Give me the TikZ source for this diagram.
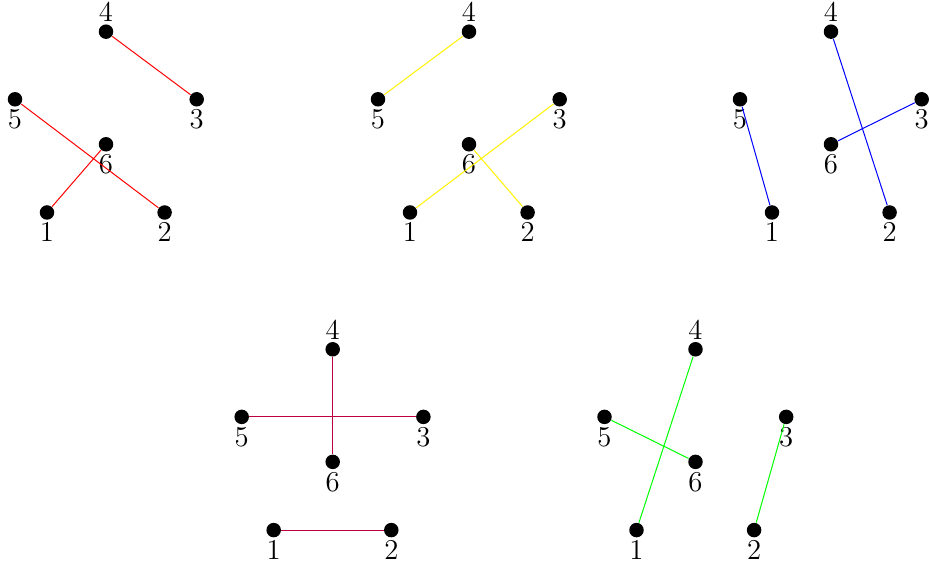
\documentclass[tikz,border=0pt]{standalone}
\newcommand\matchgraph[3]{%
  \begin{scope}[shift={(#2,#3)}]
    \node[vtx,label={[lab]above:4}] (#1-4) at (0,0) {};
    \node[vtx,label={[lab]below:5}] (#1-5) at (-91,67.6) {};
    \node[vtx,label={[lab]below:3}] (#1-3) at (90.7,67.6) {};
    \node[vtx,label={[lab]below:6}] (#1-6) at (0,112.6) {};
    \node[vtx,label={[lab]below:1}] (#1-1) at (-59,180.8) {};
    \node[vtx,label={[lab]below:2}] (#1-2) at (58.6,180.8) {};
  \end{scope}}
\begin{document}
\begin{tikzpicture}[x=0.4pt,y=-0.4pt,
  vtx/.style={circle,fill=black,inner sep=0pt,minimum size=5.8pt},
  lab/.style={inner sep=0pt,label distance=0.8pt,font=\fontsize{11.5}{13}\selectfont},
  edge/.style={line width=0.4pt}]
\useasboundingbox (0,0) rectangle (929,570);
\matchgraph{a}{106}{31.7}
\matchgraph{b}{469}{31.7}
\matchgraph{c}{831}{31.7}
\matchgraph{d}{332.7}{349.3}
\matchgraph{e}{695.5}{349.3}
\draw[edge,red] (a-4) -- (a-3) (a-5) -- (a-2) (a-1) -- (a-6);
\draw[edge,yellow] (b-5) -- (b-4) (b-1) -- (b-3) (b-6) -- (b-2);
\draw[edge,blue] (c-5) -- (c-1) (c-4) -- (c-2) (c-6) -- (c-3);
\draw[edge,purple] (d-4) -- (d-6) (d-5) -- (d-3) (d-1) -- (d-2);
\draw[edge,green] (e-1) -- (e-4) (e-5) -- (e-6) (e-2) -- (e-3);
\end{tikzpicture}
\end{document}
